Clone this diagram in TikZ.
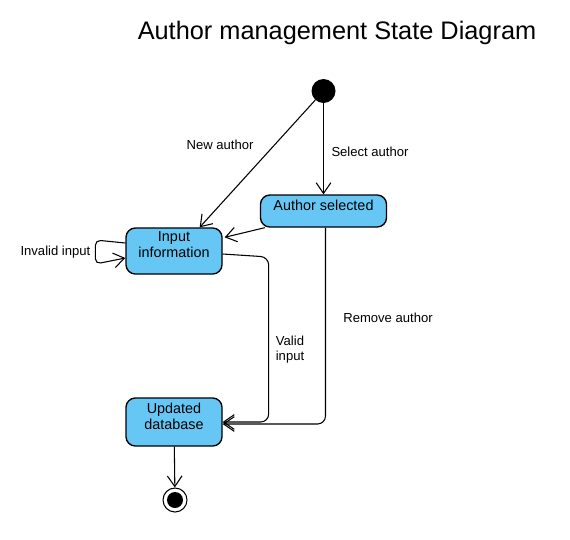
\documentclass[tikz,border=0pt]{standalone}
\usepackage{fontspec}
\setmainfont{Liberation Sans}
\usetikzlibrary{arrows.meta,calc}
\definecolor{stateblue}{RGB}{102,199,245}
\tikzstyle{state} = [draw=black, fill=stateblue, rounded corners=7pt, line width=1pt, align=center, inner sep=1pt, text depth=9pt, font=\fontsize{10.8}{12}\selectfont]
\tikzstyle{arrow} = [line width=0.8pt, -{Straight Barb[length=8pt,width=11pt]}]
\tikzstyle{lbl} = [align=center, font=\fontsize{9.8}{11.25}\selectfont]

\begin{document}
\begin{tikzpicture}[x=0.75pt,y=-0.75pt]
\useasboundingbox (0,0) rectangle (570,539);
\node (title) at (337,33) {\fontsize{19}{23}\selectfont Author management State Diagram};
\draw (323.5,91) node (init) [circle, fill=black, minimum size=18pt, inner sep=0pt] {};
\draw (323.5,211) node (sel) [state, minimum width=94.5pt, minimum height=24pt] {Author selected};
\draw (174,251) node (input) [state, minimum width=72pt, minimum height=34.5pt] {Input\\information};
\draw (174,422) node (upd) [state, minimum width=72pt, minimum height=36pt] {Updated\\database};
\draw (175,500) node (fin) [circle, draw=black, line width=0.8pt, minimum size=18pt, inner sep=0pt, path picture={\fill[black] (path picture bounding box.center) circle (6pt);}] {};
\draw[arrow] (init) -- ($(input.north east)+(-23,0)$);
\draw[arrow] (init) -- (sel);
\draw[arrow] ($(sel.south west)+(5,0)$) -- ($(input.north east)+(2,10)$);
\draw[arrow, rounded corners=4pt] ($(input.west)+(0,-8)$) -- ++(-30,-3) -- ++(0,24) -- ($(input.west)+(0,7)$);
\draw[arrow, rounded corners=6pt] ($(input.east)+(0,3)$) -- ++(46,3) |- (upd.east);
\draw[arrow, rounded corners=6pt] ($(sel.south)+(2,0)$) |- ($(upd.east)+(0,2)$);
\draw[arrow] (upd) -- (fin);
\node (newlbl) [lbl] at (220,145) {New author};
\node (sellbl) [lbl] at (370,152) {Select author};
\node (invlbl) [lbl, anchor=east] at (95,252) {Invalid input};
\node (validlbl) [lbl] at (290,350) {Valid\\input};
\node (remlbl) [lbl] at (388,318) {Remove author};
\end{tikzpicture}
\end{document}
